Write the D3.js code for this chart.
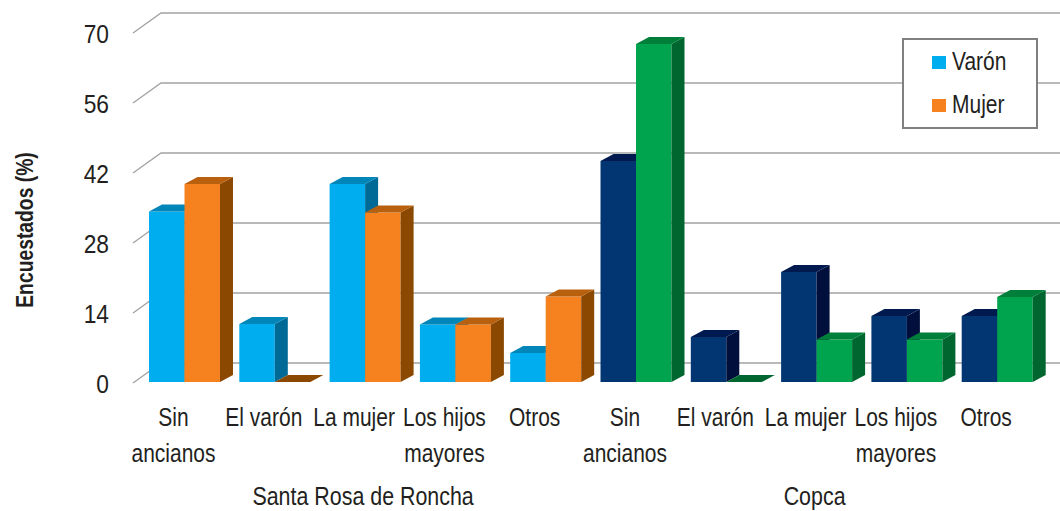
<!DOCTYPE html>
<html>
<head>
<meta charset="utf-8">
<script src="https://cdn.jsdelivr.net/npm/d3@7"></script>
<style>
  html, body { margin: 0; padding: 0; background: #fff; }
  svg { display: block; }
  text { font-family: "Liberation Sans", Arial, sans-serif; fill: #231f20; }
</style>
</head>
<body>
<svg id="chart" width="1060" height="511"></svg>
<script>
// Data
const groups = ["Santa Rosa de Roncha", "Copca"];
const categories = ["Sin ancianos", "El varón", "La mujer", "Los hijos mayores", "Otros"];
const categoryLines = [["Sin", "ancianos"], ["El varón"], ["La mujer"], ["Los hijos", "mayores"], ["Otros"]];
const series = ["Varón", "Mujer"];
const varonSantaRosa = [34.1, 11.6, 39.6, 11.5, 5.8];
const mujerSantaRosa = [39.6, 0, 33.9, 11.5, 17.1];
const varonCopca = [44.2, 9.0, 22.0, 13.2, 13.2];
const mujerCopca = [67.6, 0, 8.5, 8.5, 17.0];
const yTicks = [0, 14, 28, 42, 56, 70];

// colours per group and series: front, top, side
const palette = {
    "Santa Rosa de Roncha": {
        "Varón": { front: "#00aeef", top: "#0086b8", side: "#006a96" },
        "Mujer": { front: "#f5821f", top: "#b9600f", side: "#8b4800" }
    },
    "Copca": {
        "Varón": { front: "#023672", top: "#001a4f", side: "#000f3c" },
        "Mujer": { front: "#00a44e", top: "#007f3a", side: "#00662f" }
    }
};

const valuesByGroup = {
    "Santa Rosa de Roncha": { "Varón": varonSantaRosa, "Mujer": mujerSantaRosa },
    "Copca": { "Varón": varonCopca, "Mujer": mujerCopca }
};

// flat list of bars
const rows = [];
groups.forEach(g => {
    categories.forEach((c, i) => {
        rows.push({ key: g + "|" + c, group: g, cat: c, lines: categoryLines[i] });
    });
});

const svg = d3.select("#chart");

// the original uses a condensed face; squeeze a normal one horizontally
function addText(parent, x, y, str, size, sx, anchor, extra) {
    const t = parent.append("text")
        .attr("transform", `translate(${x},${y}) ${extra || ""} scale(${sx},1)`)
        .attr("text-anchor", anchor || "middle")
        .style("font-size", size + "px")
        .text(str);
    return t;
}

const x0 = d3.scaleBand().domain(rows.map(r => r.key)).range([139.35, 1042.35]).padding(0);
const x1 = d3.scaleBand().domain(series).range([0, x0.bandwidth()]).paddingInner(0).paddingOuter(0.272);
const y = d3.scaleLinear().domain([0, 70]).range([383, 33]);

// 3d offsets
const wall = { dx: 28, dy: -20 };
const bar = { dx: 13, dy: -7 };
const barShift = -1; // bars sit a hair behind the floor front

// grid: diagonal on the side wall + line on the back wall
const grid = svg.append("g").attr("stroke", "#a3a3a3").attr("stroke-width", 1.3).attr("fill", "none");
yTicks.forEach(t => {
    grid.append("path")
        .attr("d", `M${133},${y(t)}L${133 + wall.dx},${y(t) + wall.dy}L1060,${y(t) + wall.dy}`);
});

// y tick labels
const tickG = svg.append("g");
yTicks.forEach(t => {
    addText(tickG, 109, y(t) + 9.5, t, 26.5, 0.86, "end");
});

// y axis title
addText(svg, 33, 230, "Encuestados (%)", 23, 0.84, "middle", "rotate(-90)")
    .style("font-weight", "bold");

// bars
const barsG = svg.append("g");
rows.forEach(r => {
    series.forEach(s => {
        const v = valuesByGroup[r.group][s][categories.indexOf(r.cat)];
        const c = palette[r.group][s];
        const xl = x0(r.key) + x1(s);
        const xr = xl + x1.bandwidth();
        const yb = y(0) + barShift;
        const yt = y(v) + barShift;
        const g = barsG.append("g");
        // front
        if (v > 0) {
            g.append("rect")
                .attr("x", xl).attr("y", yt)
                .attr("width", xr - xl).attr("height", yb - yt)
                .attr("fill", c.front);
            // side
            g.append("path")
                .attr("d", `M${xr},${yt}L${xr + bar.dx},${yt + bar.dy}L${xr + bar.dx},${yb + bar.dy}L${xr},${yb}Z`)
                .attr("fill", c.side);
        }
        // top
        g.append("path")
            .attr("d", `M${xl},${yt}L${xl + bar.dx},${yt + bar.dy}L${xr + bar.dx},${yt + bar.dy}L${xr},${yt}Z`)
            .attr("fill", v > 0 ? c.top : c.side);
    });
});

// category labels
const catG = svg.append("g");
rows.forEach(r => {
    const cx = x0(r.key) + x0.bandwidth() / 2 - 11;
    r.lines.forEach((line, i) => {
        addText(catG, cx, 426 + i * 36, line, 25, 0.84);
    });
});

// group labels
groups.forEach(g => {
    const keys = rows.filter(r => r.group === g).map(r => r.key);
    const left = x0(keys[0]);
    const right = x0(keys[keys.length - 1]) + x0.bandwidth();
    addText(svg, (left + right) / 2 - 2, 505, g, 25.5, 0.84);
});

// legend
const legend = svg.append("g").attr("transform", "translate(903,39)");
legend.append("rect")
    .attr("width", 134).attr("height", 89)
    .attr("fill", "#fff")
    .attr("stroke", "#808080")
    .attr("stroke-width", 2);
series.forEach((s, i) => {
    const item = legend.append("g")
        .attr("class", "legend-item")
        .attr("transform", `translate(29,${17 + i * 43})`);
    item.append("rect")
        .attr("width", 14).attr("height", 13)
        .attr("fill", palette["Santa Rosa de Roncha"][s].front);
    addText(item, 20, 14, s, 25, 0.84, "start");
});
</script>
</body>
</html>
